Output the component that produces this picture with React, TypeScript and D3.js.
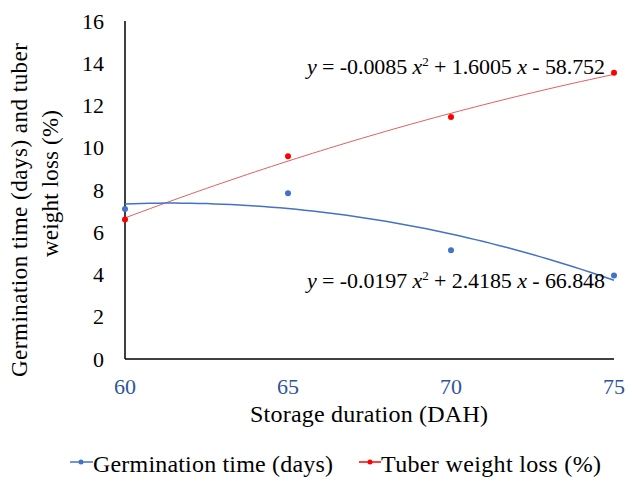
import * as d3 from 'd3';

// Chart values
const storageDays = [60, 65, 70, 75];
const germinationTime = [7.1, 7.85, 5.15, 3.95];
const weightLoss = [6.6, 9.6, 11.45, 13.55];
const yTicks = [0, 2, 4, 6, 8, 10, 12, 14, 16];
const xTicks = [60, 65, 70, 75];

// Trendline coefficients [a, b, c] shown on the chart: y = a x^2 + b x + c
const germFit = [-0.0197, 2.4185, -66.848];
const lossFit = [-0.0085, 1.6005, -58.752];

const W = 632;
const H = 482;
const margin = { left: 125, right: 18, top: 21, bottom: 123 };
const FONT = 'Liberation Serif';
const BLUE = '#4472c4';
const RED = '#ff0000';

const x = d3.scaleLinear().domain([60, 75]).range([margin.left, W - margin.right]);
const y = d3.scaleLinear().domain([0, 16]).range([H - margin.bottom, margin.top]);

const poly = (c: number[]) => (v: number) => c[0] * v * v + c[1] * v + c[2];
const curve = (c: number[]) => {
  const f = poly(c);
  const pts = d3.range(60, 75.001, 0.25).map((v) => [v, f(v)] as [number, number]);
  return d3.line<[number, number]>().x((d) => x(d[0])).y((d) => y(d[1]))(pts) || '';
};

const txt = { fontFamily: FONT };

export default function App() {
  const bottom = H - margin.bottom;
  return (
    <svg width={W} height={H} style={{ position: 'absolute', left: 0, top: 0, background: '#fff' }}>
      {/* y ticks */}
      {yTicks.map((t) => (
        <text key={t} style={txt} x={margin.left - 21} y={y(t)} dy="0.35em" textAnchor="end" fontSize={22} fill="#000">
          {t}
        </text>
      ))}
      {/* x ticks */}
      {xTicks.map((t) => (
        <text key={t} style={txt} x={x(t)} y={bottom + 35} textAnchor="middle" fontSize={22} fill="#2f5597">
          {t}
        </text>
      ))}
      {/* axes */}
      <line x1={margin.left} x2={margin.left} y1={margin.top} y2={bottom} stroke="#000" strokeWidth={1.5} />
      <line x1={margin.left} x2={W - margin.right} y1={bottom} y2={bottom} stroke="#000" strokeWidth={1.5} />

      {/* trendlines */}
      <path d={curve(lossFit)} fill="none" stroke="#e06060" strokeWidth={1} />
      <path d={curve(germFit)} fill="none" stroke={BLUE} strokeWidth={1.5} />

      {/* points */}
      {storageDays.map((d, i) => (
        <circle key={'g' + d} cx={x(d)} cy={y(germinationTime[i])} r={3} fill={BLUE} />
      ))}
      {storageDays.map((d, i) => (
        <circle key={'l' + d} cx={x(d)} cy={y(weightLoss[i])} r={3} fill={RED} />
      ))}

      {/* equations */}
      <text style={txt} x={307} y={74} fontSize={22} fill="#000" textLength={298} lengthAdjust="spacing">
        <tspan fontStyle="italic">y</tspan> = -0.0085 <tspan fontStyle="italic">x</tspan>
        <tspan fontSize={13} dy={-8}>2</tspan>
        <tspan dy={8}> + 1.6005 </tspan>
        <tspan fontStyle="italic">x</tspan> - 58.752
      </text>
      <text style={txt} x={307} y={288} fontSize={22} fill="#000" textLength={298} lengthAdjust="spacing">
        <tspan fontStyle="italic">y</tspan> = -0.0197 <tspan fontStyle="italic">x</tspan>
        <tspan fontSize={13} dy={-8}>2</tspan>
        <tspan dy={8}> + 2.4185 </tspan>
        <tspan fontStyle="italic">x</tspan> - 66.848
      </text>

      {/* axis titles */}
      <text style={txt} x={369} y={422} textAnchor="middle" fontSize={24} fill="#000" textLength={238} lengthAdjust="spacing">
        Storage duration (DAH)
      </text>
      <g transform="rotate(-90)">
        <text style={txt} x={-377} y={27} fontSize={23} fill="#000" textLength={334} lengthAdjust="spacing">
          Germination time (days) and tuber
        </text>
        <text style={txt} x={-257} y={58} fontSize={23} fill="#000" textLength={147} lengthAdjust="spacing">
          weight loss (%)
        </text>
      </g>

      {/* legend */}
      <g>
        <line x1={70} x2={93} y1={462} y2={462} stroke={BLUE} strokeWidth={1.5} />
        <circle cx={81} cy={462} r={2.5} fill={BLUE} />
        <text style={txt} x={93} y={472} fontSize={24} fill="#000" textLength={240} lengthAdjust="spacing">
          Germination time (days)
        </text>
        <line x1={359} x2={381} y1={462} y2={462} stroke={RED} strokeWidth={1.5} />
        <circle cx={370} cy={462} r={2.5} fill={RED} />
        <text style={txt} x={381} y={472} fontSize={24} fill="#000" textLength={220} lengthAdjust="spacing">
          Tuber weight loss (%)
        </text>
      </g>
    </svg>
  );
}
